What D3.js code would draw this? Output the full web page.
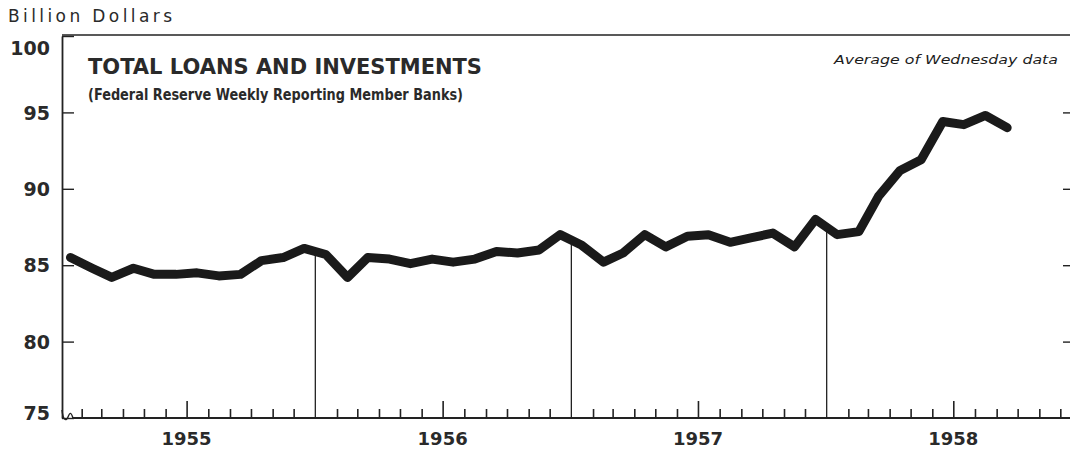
<!DOCTYPE html>
<html>
<head>
<meta charset="utf-8">
<script src="https://cdn.jsdelivr.net/npm/d3@7/dist/d3.min.js"></script>
<style>
  body { margin: 0; background: #fff; }
  text { fill: #1c1c1c; font-family: "DejaVu Sans", sans-serif; }
</style>
</head>
<body>
<div id="chart"></div>
<script>
// monthly averages, billions of dollars
var years = [1955, 1956, 1957, 1958];
var values_1955 = [85.5, 84.8, 84.2, 84.8, 84.4, 84.4, 84.5, 84.3, 84.4, 85.3, 85.5, 86.1];
var values_1956 = [85.7, 84.2, 85.5, 85.4, 85.1, 85.4, 85.2, 85.4, 85.9, 85.8, 86.0, 87.0];
var values_1957 = [86.3, 85.2, 85.8, 87.0, 86.2, 86.9, 87.0, 86.5, 86.8, 87.1, 86.2, 88.0];
var values_1958 = [87.0, 87.2, 89.5, 91.2, 91.9, 94.4, 94.2, 94.8, 94.0];
var y_ticks = [75, 80, 85, 90, 95, 100];
var right_ticks = [80, 85, 90, 95];

var by_year = [values_1955, values_1956, values_1957, values_1958];
var data = [];
by_year.forEach(function(vals, i){
    vals.forEach(function(v, m){
        data.push({ date: new Date(years[i], m, 16), num: v });
    });
});

var width = 1070;
var height = 450;

var svg = d3.select('#chart')
    .append('svg')
    .attr('width', width)
    .attr('height', height);

var x_scale = d3.scaleTime()
    .domain([new Date(1955, 0, 1), new Date(1959, 0, 1)])
    .range([60, 1082]);
var y_scale = d3.scaleLinear()
    .domain([75, 100])
    .range([418, 36]);

var axis_y = 418;

// top border
svg.append('line')
    .attr('x1', 62).attr('x2', width)
    .attr('y1', y_scale(100) - 1).attr('y2', y_scale(100) - 1)
    .attr('stroke', '#222').attr('stroke-width', 1.6);

// left axis, ticks pointing inward
var left_axis = svg.append('g')
    .attr('transform', 'translate(62,0)')
    .call(d3.axisLeft(y_scale).tickValues(y_ticks).tickSizeInner(-12).tickSizeOuter(0).tickPadding(12));
left_axis.select('.domain').attr('stroke', '#222').attr('stroke-width', 1.8);
left_axis.selectAll('line').attr('stroke', '#222').attr('stroke-width', 1.4);
left_axis.selectAll('text')
    .attr('dy', function(d){ return d === 100 ? '0.95em' : (d === 75 ? '0.1em' : '0.35em'); })
    .style('font-size', '19px')
    .style('font-weight', 'bold')
    .style('fill', '#2a2a2a');

// right ticks
var right_axis = svg.append('g')
    .attr('transform', 'translate(' + width + ',0)')
    .call(d3.axisRight(y_scale).tickValues(right_ticks).tickSizeInner(-7).tickSizeOuter(0).tickFormat(''));
right_axis.select('.domain').remove();
right_axis.selectAll('line').attr('stroke', '#222').attr('stroke-width', 1.4);

// month ticks along the bottom
var month_ticks = d3.timeMonth.range(new Date(1955, 0, 1), new Date(1959, 0, 1))
    .filter(function(d){ return d.getMonth() !== 0; });
var bottom_axis = svg.append('g')
    .attr('transform', 'translate(0,' + axis_y + ')')
    .call(d3.axisTop(x_scale).tickValues(month_ticks).tickSizeInner(9).tickSizeOuter(0).tickFormat(''));
bottom_axis.select('.domain').remove();
bottom_axis.selectAll('.tick line')
    .attr('stroke', '#222').attr('stroke-width', 1.6)
    .attr('y2', function(d){ return d.getMonth() === 6 ? -17 : -9; });
svg.append('line')
    .attr('x1', 72).attr('x2', width)
    .attr('y1', axis_y).attr('y2', axis_y)
    .attr('stroke', '#222').attr('stroke-width', 1.8);

// axis break squiggle
svg.append('path')
    .attr('d', 'M62,410 C63,420 66,422 68,417 S71,412 73,418')
    .attr('fill', 'none').attr('stroke', '#222').attr('stroke-width', 1.4);

// year labels
svg.selectAll('.year')
    .data(years)
    .enter()
    .append('text')
    .attr('class', 'year')
    .attr('x', function(d){ return x_scale(new Date(d, 6, 1)); })
    .attr('y', 445)
    .attr('text-anchor', 'middle')
    .style('font-size', '18px')
    .style('font-weight', 'bold')
    .style('fill', '#2a2a2a')
    .text(function(d){ return d; });

// year separators, from the axis up to the line
function value_at(date){
    var bis = d3.bisector(function(d){ return d.date; }).left;
    var i = bis(data, date);
    var a = data[i - 1], b = data[i];
    var t = (date - a.date) / (b.date - a.date);
    return a.num + (b.num - a.num) * t;
}
svg.selectAll('.sep')
    .data([1956, 1957, 1958])
    .enter()
    .append('line')
    .attr('class', 'sep')
    .attr('x1', function(d){ return x_scale(new Date(d, 0, 1)); })
    .attr('x2', function(d){ return x_scale(new Date(d, 0, 1)); })
    .attr('y1', axis_y)
    .attr('y2', function(d){ return y_scale(value_at(new Date(d, 0, 1))); })
    .attr('stroke', '#222').attr('stroke-width', 1.3);

// the series
var line = d3.line()
    .x(function(d){ return x_scale(d.date); })
    .y(function(d){ return y_scale(d.num); });
svg.append('path')
    .datum(data)
    .attr('d', line)
    .attr('fill', 'none')
    .attr('stroke', '#1a1a1a')
    .attr('stroke-width', 9)
    .attr('stroke-linejoin', 'round')
    .attr('stroke-linecap', 'round');

// texts
svg.append('text')
    .attr('x', 8).attr('y', 22)
    .attr('textLength', 164).attr('lengthAdjust', 'spacing')
    .style('font-size', '17px')
    .style('fill', '#2a2a2a')
    .text('Billion Dollars');

svg.append('text')
    .attr('x', 88).attr('y', 74)
    .attr('textLength', 394).attr('lengthAdjust', 'spacingAndGlyphs')
    .style('font-size', '22px')
    .style('font-weight', 'bold')
    .style('fill', '#2a2a2a')
    .text('TOTAL LOANS AND INVESTMENTS');

svg.append('text')
    .attr('x', 88).attr('y', 100)
    .attr('textLength', 375).attr('lengthAdjust', 'spacingAndGlyphs')
    .style('font-size', '15px')
    .style('font-weight', 'bold')
    .style('fill', '#2a2a2a')
    .text('(Federal Reserve Weekly Reporting Member Banks)');

svg.append('text')
    .attr('x', 834).attr('y', 64)
    .attr('textLength', 224).attr('lengthAdjust', 'spacingAndGlyphs')
    .style('font-size', '13px')
    .style('font-style', 'italic')
    .text('Average of Wednesday data');
</script>
</body>
</html>
